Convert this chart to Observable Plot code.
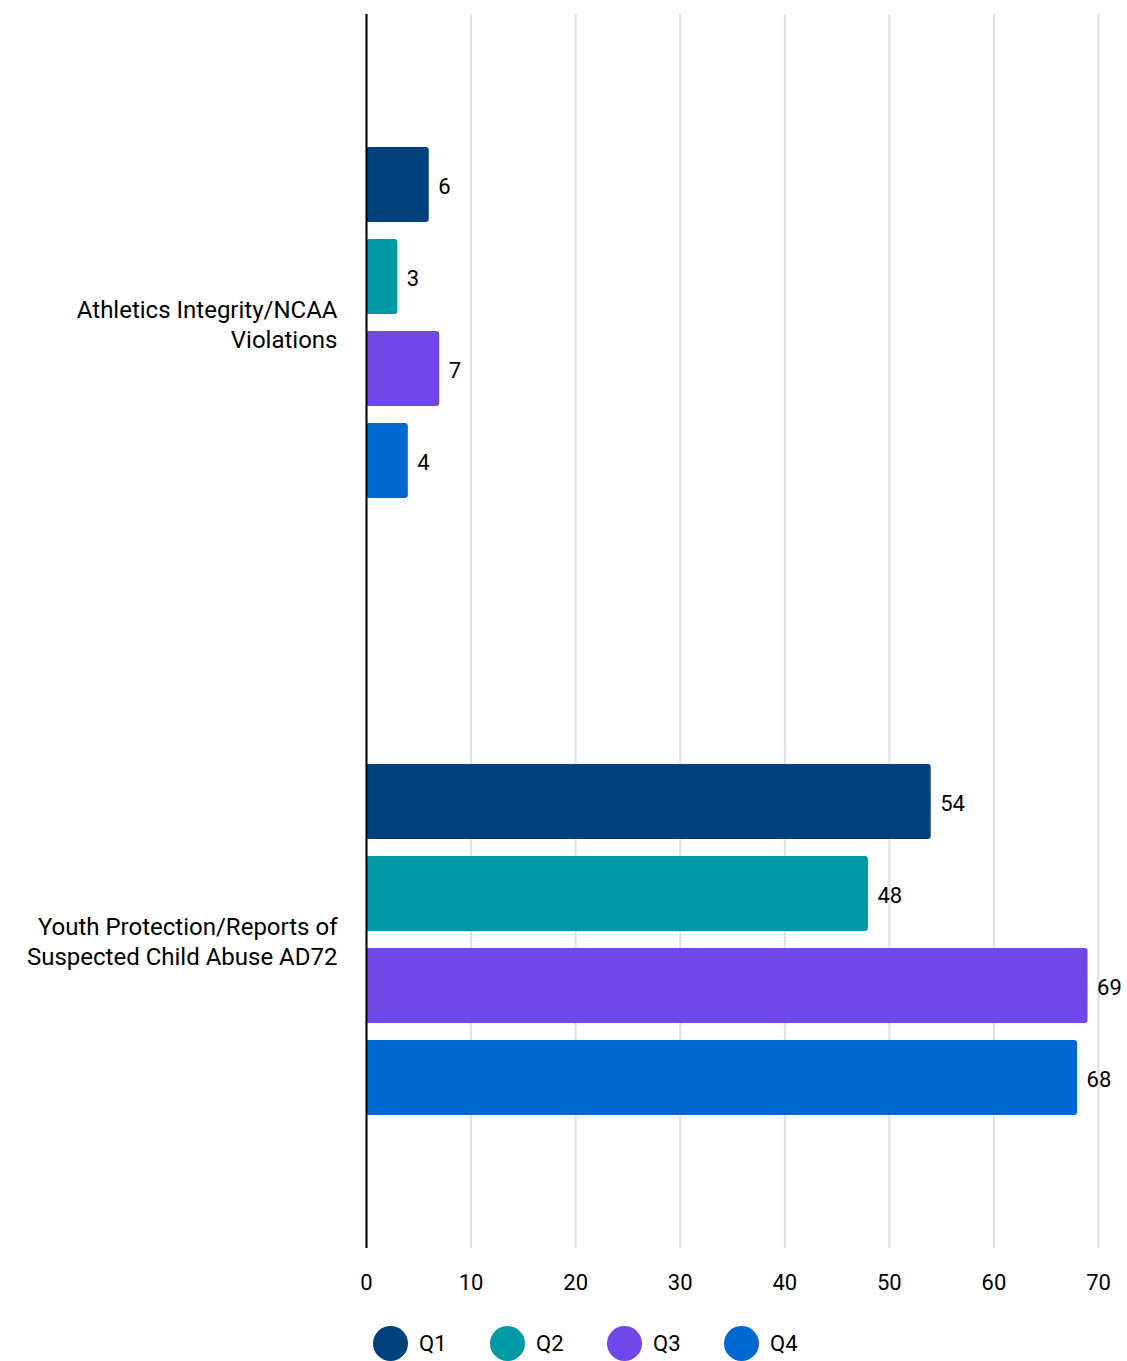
<!DOCTYPE html>
<html><head><meta charset="utf-8">
<script src="https://cdn.jsdelivr.net/npm/d3@7"></script>
<script src="https://cdn.jsdelivr.net/npm/@observablehq/plot@0.6"></script>
<style>
body{margin:0;background:#fff;font-family:Roboto,sans-serif;}
#legend{display:flex;margin-top:25px;padding-left:373px;height:36px;align-items:center;}
.item{display:flex;align-items:center;width:117px;font-size:22px;color:#000;}
.dot{width:35px;height:35px;border-radius:50%;margin-right:11px;}
</style>
</head><body>
<div id="chart"></div>
<div id="legend"></div>
<script>
const categories = ["Athletics Integrity/NCAA Violations", "Youth Protection/Reports of Suspected Child Abuse AD72"];
const categoryLabels = ["Athletics Integrity/NCAA\nViolations", "Youth Protection/Reports of\nSuspected Child Abuse AD72"];
const quarters = ["Q1", "Q2", "Q3", "Q4"];
const athleticsValues = [6, 3, 7, 4];
const youthValues = [54, 48, 69, 68];
const colors = ["#00407d", "#0099a6", "#7048e8", "#0068d1"];
const xTicks = [0, 10, 20, 30, 40, 50, 60, 70];

const data = [];
[athleticsValues, youthValues].forEach((vals, i) => {
  vals.forEach((v, j) => data.push({category: categories[i], quarter: quarters[j], value: v}));
});

const chart = Plot.plot({
  width: 1127, height: 1300,
  marginLeft: 366, marginRight: 29, marginTop: 14, marginBottom: 52,
  style: {fontFamily: "Roboto, sans-serif", fontSize: "22px", color: "#000", background: "#fff"},
  x: {domain: [0, 70], label: null},
  y: {domain: quarters, paddingInner: 0.184, paddingOuter: 1.427, axis: null},
  fy: {domain: categories, padding: 0, label: null},
  color: {domain: quarters, range: colors},
  marks: [
    Plot.gridX(xTicks, {stroke: "#e0e0e0", strokeOpacity: 1, strokeWidth: 2}),
    Plot.axisX(xTicks, {anchor: "bottom", tickSize: 0, tickPadding: 26, fontSize: 22, label: null}),
    Plot.axisFy({anchor: "left", tickSize: 0, tickPadding: 29, fontSize: 24, lineHeight: 1.25, label: null,
      tickFormat: d => categoryLabels[categories.indexOf(d)]}),
    Plot.barX(data, {x: "value", y: "quarter", fy: "category", fill: "quarter", rx: 3}),
    Plot.ruleX([0], {stroke: "#000", strokeWidth: 2}),
    Plot.text(data, {x: "value", y: "quarter", fy: "category", text: d => String(d.value),
      dx: 9, dy: 2, textAnchor: "start", fontSize: 22, fill: "#000"})
  ]
});
document.getElementById("chart").append(chart);

const legend = document.getElementById("legend");
quarters.forEach((q, i) => {
  const item = document.createElement("div");
  item.className = "item";
  const dot = document.createElement("span");
  dot.className = "dot";
  dot.style.background = colors[i];
  const lab = document.createElement("span");
  lab.textContent = q;
  item.append(dot, lab);
  legend.append(item);
});
</script>
</body></html>
